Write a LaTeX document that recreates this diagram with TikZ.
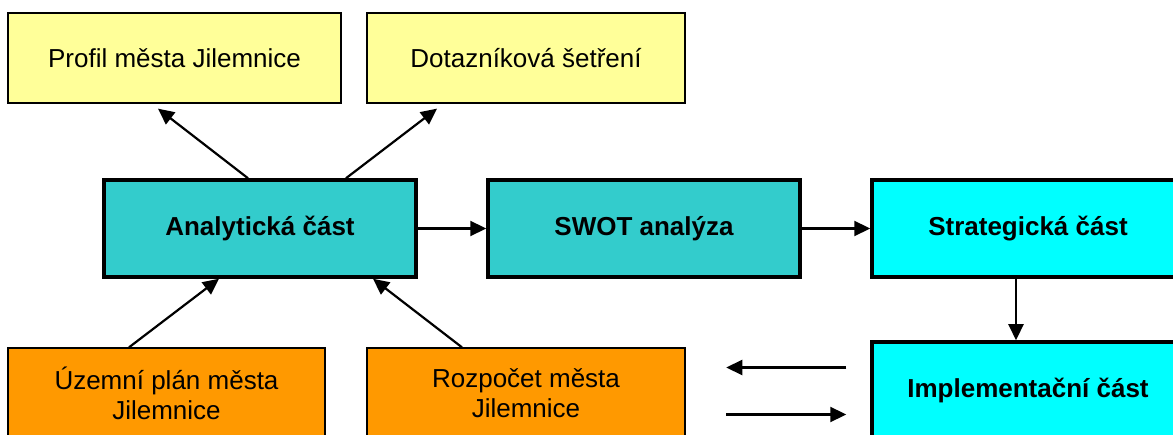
\documentclass[tikz,border=0pt]{standalone}
\usepackage{fontspec}
\setmainfont{Liberation Sans}
\usetikzlibrary{arrows.meta}

\definecolor{boxyellow}{HTML}{FFFF99}
\definecolor{boxteal}{HTML}{33CCCC}
\definecolor{boxcyan}{HTML}{00FFFF}
\definecolor{boxorange}{HTML}{FF9900}

\tikzset{
  plain/.style={draw=black,line width=1.3pt,minimum height=90pt,align=center,inner sep=0pt},
  heavy/.style={draw=black,line width=3.5pt,minimum width=312pt,minimum height=97pt,font=\bfseries,inner sep=0pt},
  arr/.style={line width=2.2pt,-{Triangle[length=16pt,width=15pt]}}
}

\begin{document}
\begin{tikzpicture}[x=1pt,y=-1pt]
\fontsize{26}{30}\selectfont
\useasboundingbox (0,0) rectangle (1173,435);
\clip (0,0) rectangle (1173,435);

\node[plain,fill=boxyellow,minimum width=333pt] (profil) at (174.5,58) {Profil města Jilemnice};
\node[plain,fill=boxyellow,minimum width=318pt] (dotaz) at (526,58) {Dotazníková šetření};

\node[heavy,fill=boxteal] (anal) at (260,228.5) {Analytická část};
\node[heavy,fill=boxteal] (swot) at (644,228.5) {SWOT analýza};
\node[heavy,fill=boxcyan] (strat) at (1028,228.5) {Strategická část};
\node[heavy,fill=boxcyan] (impl) at (1028,390.5) {Implementační část};

\node[plain,fill=boxorange,minimum width=317pt] (uzem) at (166.5,393) {Územní plán města\\Jilemnice};
\node[plain,fill=boxorange,minimum width=318pt] (rozp) at (526,393) {Rozpočet města\\Jilemnice};

\draw[arr] ([xshift=-12pt]anal.north) -- ([xshift=-16.5pt,yshift=-5pt]profil.south);
\draw[arr] ([xshift=86pt]anal.north) -- ([xshift=-89pt,yshift=-5pt]dotaz.south);
\draw[arr] ([xshift=-37.5pt]uzem.north) -- ([xshift=-41pt]anal.south);
\draw[arr] ([xshift=-64pt]rozp.north) -- ([xshift=113pt]anal.south);

\draw[arr] (anal) -- (swot);
\draw[arr] (swot) -- (strat);
\draw[arr] ([xshift=-12pt]strat.south) -- ([xshift=-12pt]impl.north);

\coordinate (back) at ([xshift=-144pt,yshift=23pt]impl.west);
\coordinate (fwd) at ([xshift=-144pt,yshift=-24pt]impl.west);
\draw[arr] ([xshift=-24pt,yshift=23pt]impl.west) -- (back);
\draw[arr] (fwd) -- ([xshift=-24pt,yshift=-24pt]impl.west);
\end{tikzpicture}
\end{document}
